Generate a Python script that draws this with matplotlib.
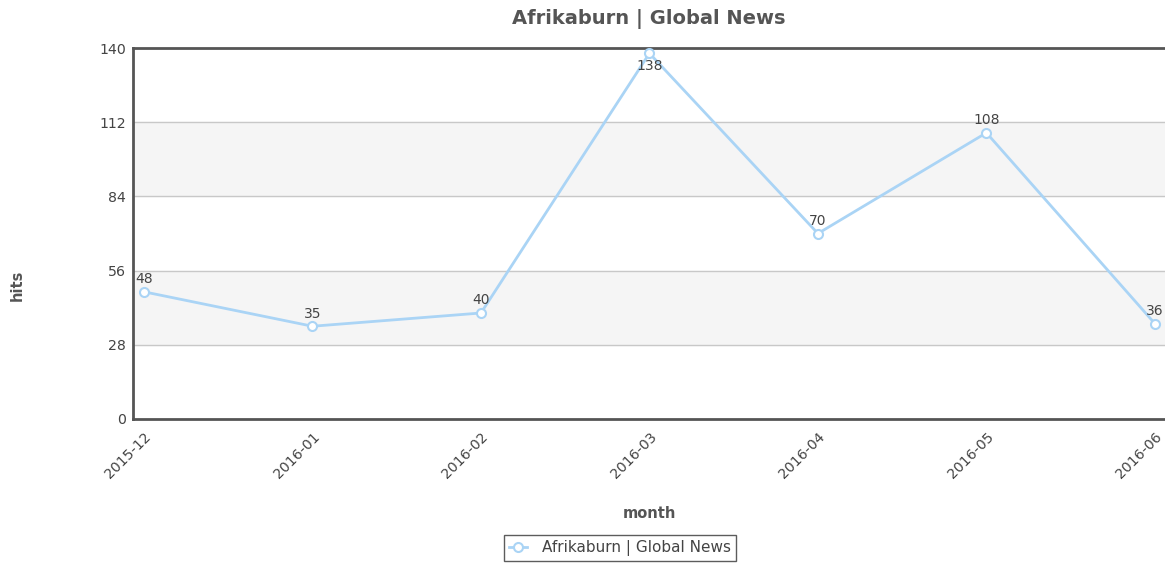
import matplotlib.pyplot as plt

months = ["2015-12", "2016-01", "2016-02", "2016-03", "2016-04", "2016-05", "2016-06"]
hits = [48, 35, 40, 138, 70, 108, 36]
yticks = [0, 28, 56, 84, 112, 140]
series_name = "Afrikaburn | Global News"

W, H = 1165, 566
fig = plt.figure(figsize=(W / 100, H / 100), dpi=100)
ax = fig.add_axes([133 / W, (H - 419) / H, (W - 133) / W, (419 - 48) / H])

line_color = "#aad4f5"
text_color = "#444444"

# alternating bands
for lo, hi in [(28, 56), (84, 112)]:
    ax.axhspan(lo, hi, color="#f5f5f5", zorder=0)
for y in yticks[1:-1]:
    ax.axhline(y, color="#c8c8c8", linewidth=1, zorder=1)

x = list(range(len(months)))
ax.plot(x, hits, color=line_color, linewidth=2, marker="o", markersize=6.5,
        markerfacecolor="white", markeredgecolor=line_color, markeredgewidth=1.5,
        label=series_name, zorder=3)

for xi, v in zip(x, hits):
    if v == max(hits):
        ax.annotate(str(v), (xi, v), xytext=(0, -4), textcoords="offset points",
                    ha="center", va="top", fontsize=10, color=text_color, zorder=4)
    else:
        ax.annotate(str(v), (xi, v), xytext=(0, 4), textcoords="offset points",
                    ha="center", va="bottom", fontsize=10, color=text_color, zorder=4)

ax.set_xlim(-0.065, 6.06)
ax.set_ylim(0, 140)
ax.set_yticks(yticks)
ax.set_xticks(x)
ax.set_xticklabels(months, rotation=45, ha="right", rotation_mode="anchor")
ax.tick_params(axis="both", length=0, labelsize=10.2, colors=text_color)
ax.tick_params(axis="x", pad=8)
ax.tick_params(axis="y", pad=5)

for side in ["left", "bottom", "top"]:
    ax.spines[side].set_color("#555555")
    ax.spines[side].set_linewidth(2)
ax.spines["right"].set_visible(False)

fig.text(649 / W, 1 - 19 / H, series_name, ha="center", va="center",
         fontsize=14, fontweight="bold", color="#555555")
fig.text(649 / W, 1 - 514 / H, "month", ha="center", va="center",
         fontsize=10.5, fontweight="bold", color="#555555")
fig.text(17 / W, 1 - 285 / H, "hits", ha="center", va="center", rotation=90,
         fontsize=10.5, fontweight="bold", color="#555555")

leg = fig.legend(loc="center", bbox_to_anchor=(620 / W, 1 - 548 / H), fontsize=11,
                 frameon=True, fancybox=False, edgecolor="#333333",
                 handlelength=1.2, handletextpad=1.0, borderpad=0.3,
                 labelcolor=text_color)
leg.get_frame().set_linewidth(1)

fig.savefig("out.png", dpi=100)
